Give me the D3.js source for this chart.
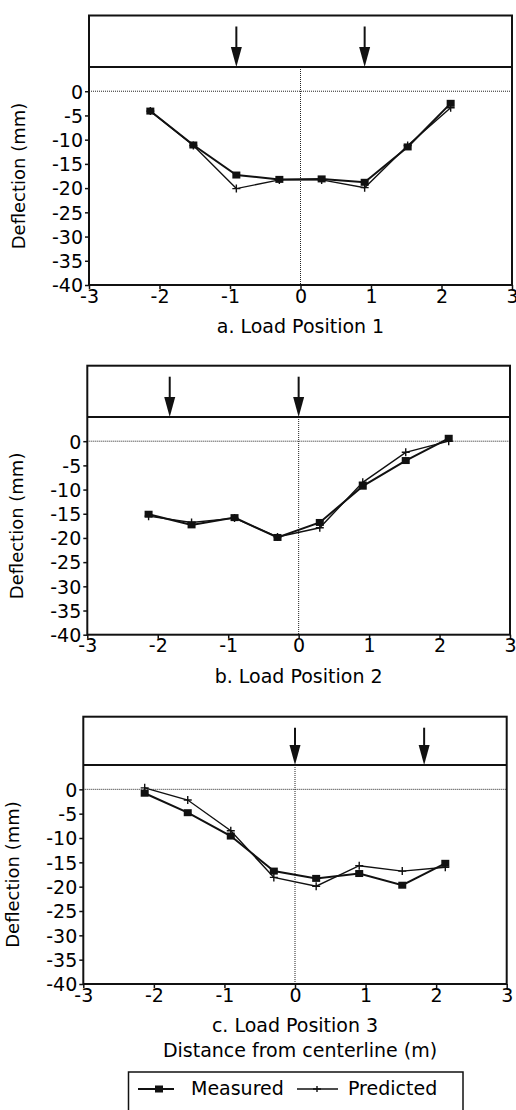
<!DOCTYPE html>
<html>
<head>
<meta charset="utf-8">
<script src="https://cdn.jsdelivr.net/npm/d3@7"></script>
<style>
    body { margin: 0; background: #fff; }
    text { font-family: "DejaVu Sans", sans-serif; fill: #000; }
</style>
</head>
<body>
<script>
// offsets along the slab (m)
const xPos = [-2.13, -1.52, -0.91, -0.30, 0.30, 0.91, 1.52, 2.13];

// deflections (mm)
const measured1 = [-4.1, -11.1, -17.3, -18.2, -18.1, -18.8, -11.5, -2.5];
const predicted1 = [-4.1, -11.2, -20.1, -18.3, -18.3, -19.9, -11.2, -3.4];
const measured2 = [-15.1, -17.3, -15.8, -19.9, -16.8, -9.3, -4.0, 0.6];
const predicted2 = [-15.5, -16.8, -15.9, -19.8, -17.9, -8.5, -2.3, 0.0];
const measured3 = [-0.8, -4.8, -9.6, -16.8, -18.3, -17.3, -19.7, -15.2];
const predicted3 = [0.3, -2.2, -8.5, -18.1, -19.9, -15.7, -16.8, -16.0];

// wheel load positions (arrows)
const arrows1 = [-0.91, 0.91];
const arrows2 = [-1.83, 0];
const arrows3 = [0, 1.83];

const titles = ["a. Load Position 1", "b. Load Position 2", "c. Load Position 3"];
const xTicks = [-3, -2, -1, 0, 1, 2, 3];
const yTicks = [0, -5, -10, -15, -20, -25, -30, -35, -40];
const seriesNames = ["Measured", "Predicted"];

let svgWidth = 516;
let svgHeight = 1110;

let svg = d3.select("body")
    .append("svg")
    .attr("width", svgWidth)
    .attr("height", svgHeight);

// panel frames (page px)
let panels = [
    {top: 15.5, left: 89, right: 512, divider: 67, bottom: 285,
     measured: measured1, predicted: predicted1, arrows: arrows1, title: titles[0]},
    {top: 365.7, left: 87.3, right: 510, divider: 417, bottom: 634.7,
     measured: measured2, predicted: predicted2, arrows: arrows2, title: titles[1]},
    {top: 716.7, left: 83.3, right: 506.7, divider: 765, bottom: 984,
     measured: measured3, predicted: predicted3, arrows: arrows3, title: titles[2]}
];

panels.forEach(p => {
    let g = svg.append("g");

    let x = d3.scaleLinear().domain([-3, 3]).range([p.left, p.right]);
    let y = d3.scaleLinear().domain([-40, 5]).range([p.bottom, p.divider]);

    // reference lines
    g.append("line")
        .attr("x1", x(-3)).attr("x2", x(3))
        .attr("y1", y(0)).attr("y2", y(0))
        .attr("stroke", "#222").attr("stroke-width", 1)
        .attr("stroke-dasharray", "1,1");
    g.append("line")
        .attr("x1", x(0)).attr("x2", x(0))
        .attr("y1", p.divider).attr("y2", p.bottom)
        .attr("stroke", "#222").attr("stroke-width", 1)
        .attr("stroke-dasharray", "1,1");

    // frame + divider
    g.append("rect")
        .attr("x", p.left).attr("y", p.top)
        .attr("width", p.right - p.left).attr("height", p.bottom - p.top)
        .attr("fill", "none").attr("stroke", "#111").attr("stroke-width", 2);
    g.append("line")
        .attr("x1", p.left).attr("x2", p.right)
        .attr("y1", p.divider).attr("y2", p.divider)
        .attr("stroke", "#111").attr("stroke-width", 2);

    // axes
    let bottomAxis = d3.axisBottom(x).tickValues(xTicks).tickSize(4).tickFormat(d => String(d));
    let leftAxis = d3.axisLeft(y).tickValues(yTicks).tickSize(4).tickFormat(d => String(d));
    let xg = g.append("g")
        .attr("transform", `translate(0,${p.bottom})`)
        .call(bottomAxis);
    let yg = g.append("g")
        .attr("transform", `translate(${p.left},0)`)
        .call(leftAxis);
    [xg, yg].forEach(a => {
        a.select(".domain").remove();
        a.selectAll("line").attr("stroke", "#111").attr("stroke-width", 1.5);
        a.selectAll("text")
            .style("font-size", "19px")
            .style("font-family", "DejaVu Sans, sans-serif")
            .style("fill", "#000");
    });
    xg.selectAll("text").attr("y", 4).attr("dy", "0.71em");
    yg.selectAll("text").attr("x", -6).attr("dy", "0.36em");

    // load arrows
    p.arrows.forEach(a => {
        g.append("line")
            .attr("x1", x(a)).attr("x2", x(a))
            .attr("y1", p.top + 11).attr("y2", p.divider - 18)
            .attr("stroke", "#111").attr("stroke-width", 2);
        g.append("path")
            .attr("d", `M${x(a) - 5.5},${p.divider - 20} L${x(a) + 5.5},${p.divider - 20} L${x(a)},${p.divider} Z`)
            .attr("fill", "#111");
    });

    // series
    let line = d3.line().x(d => x(d[0])).y(d => y(d[1]));
    let mPts = xPos.map((v, i) => [v, p.measured[i]]);
    let pPts = xPos.map((v, i) => [v, p.predicted[i]]);

    g.append("path")
        .datum(pPts)
        .attr("d", line)
        .attr("fill", "none").attr("stroke", "#111").attr("stroke-width", 1.4);
    g.selectAll(".plus")
        .data(pPts)
        .enter()
        .append("path")
        .attr("d", d => `M${x(d[0]) - 4},${y(d[1])} H${x(d[0]) + 4} M${x(d[0])},${y(d[1]) - 4} V${y(d[1]) + 4}`)
        .attr("stroke", "#111").attr("stroke-width", 1.4);

    g.append("path")
        .datum(mPts)
        .attr("d", line)
        .attr("fill", "none").attr("stroke", "#111").attr("stroke-width", 2);
    g.selectAll(".sq")
        .data(mPts)
        .enter()
        .append("rect")
        .attr("x", d => x(d[0]) - 4)
        .attr("y", d => y(d[1]) - 3.5)
        .attr("width", 8).attr("height", 7)
        .attr("fill", "#111");

    // y label
    g.append("text")
        .attr("transform", `translate(${p.left - 64},${(p.divider + p.bottom) / 2}) rotate(-90)`)
        .attr("text-anchor", "middle")
        .style("font-size", "18px")
        .text("Deflection (mm)");

    // panel title
    g.append("text")
        .attr("x", x(0))
        .attr("y", p.bottom + 48)
        .attr("text-anchor", "middle")
        .style("font-size", "19px")
        .text(p.title);
});

// shared x label
svg.append("text")
    .attr("x", 300)
    .attr("y", 1057)
    .attr("text-anchor", "middle")
    .style("font-size", "19px")
    .text("Distance from centerline (m)");

// legend
let legend = svg.append("g");
legend.append("rect")
    .attr("x", 128.5).attr("y", 1072)
    .attr("width", 334.5).attr("height", 60)
    .attr("fill", "none").attr("stroke", "#111").attr("stroke-width", 1.5);
legend.append("line")
    .attr("x1", 138).attr("x2", 174).attr("y1", 1089).attr("y2", 1089)
    .attr("stroke", "#111").attr("stroke-width", 2);
legend.append("rect")
    .attr("x", 155).attr("y", 1085.5).attr("width", 8).attr("height", 7)
    .attr("fill", "#111");
legend.append("text")
    .attr("x", 191).attr("y", 1095)
    .style("font-size", "19px")
    .text(seriesNames[0]);
legend.append("line")
    .attr("x1", 297).attr("x2", 338).attr("y1", 1089).attr("y2", 1089)
    .attr("stroke", "#111").attr("stroke-width", 1.4);
legend.append("path")
    .attr("d", "M313,1089 H321 M317,1086 V1092")
    .attr("stroke", "#111").attr("stroke-width", 1.4);
legend.append("text")
    .attr("x", 348).attr("y", 1095)
    .style("font-size", "19px")
    .text(seriesNames[1]);
</script>
</body>
</html>
